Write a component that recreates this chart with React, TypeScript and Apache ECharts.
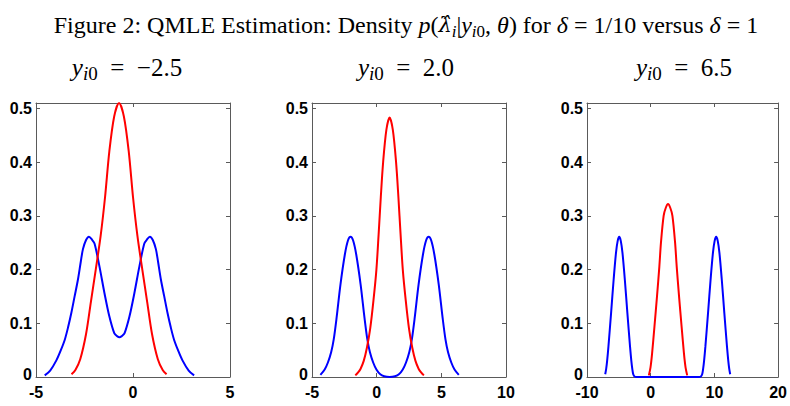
import React, { useEffect, useRef } from "react";
import * as echarts from "echarts";

// ---------- data ----------
const p1BlueX = [-4.55, -4.27, -3.95, -3.72, -3.52, -3.35, -3.18, -3.01, -2.84, -2.69, -2.58, -2.42, -2.27, -2.12, -1.98, -1.73, -1.47, -1.22, -0.96, -0.82, -0.70, -0.58, -0.44, -0.18, 0.07, 0.33, 0.58, 0.72, 0.87, 1.02, 1.18, 1.29, 1.44, 1.61, 1.78, 1.95, 2.12, 2.32, 2.55, 2.87, 3.15];
const p1BlueY = [0.003, 0.012, 0.031, 0.05, 0.069, 0.092, 0.119, 0.15, 0.181, 0.215, 0.238, 0.255, 0.261, 0.256, 0.248, 0.206, 0.156, 0.113, 0.081, 0.076, 0.074, 0.076, 0.081, 0.113, 0.156, 0.206, 0.248, 0.256, 0.261, 0.255, 0.238, 0.215, 0.181, 0.15, 0.119, 0.092, 0.069, 0.05, 0.031, 0.012, 0.003];
const p1RedX = [-3.17, -2.97, -2.72, -2.42, -2.17, -1.92, -1.67, -1.44, -1.22, -0.97, -0.72, -0.47, -0.22, 0.0, 0.23, 0.48, 0.73, 0.98, 1.28, 1.53, 1.73];
const p1RedY = [0.005, 0.013, 0.033, 0.08, 0.14, 0.2, 0.262, 0.335, 0.42, 0.485, 0.51, 0.485, 0.42, 0.335, 0.262, 0.2, 0.14, 0.08, 0.033, 0.013, 0.005];

const p2BlueX = [-4.35, -4.02, -3.77, -3.52, -3.32, -3.10, -2.80, -2.46, -2.22, -2.02, -1.82, -1.58, -1.24, -0.94, -0.72, -0.52, -0.27, -0.02, 0.28, 0.58, 1.0, 1.42, 1.72, 2.02, 2.27, 2.52, 2.72, 2.94, 3.24, 3.58, 3.82, 4.02, 4.22, 4.46, 4.80, 5.10, 5.32, 5.52, 5.77, 6.02, 6.35];
const p2BlueY = [0.004, 0.014, 0.027, 0.046, 0.07, 0.11, 0.172, 0.228, 0.254, 0.261, 0.254, 0.228, 0.172, 0.11, 0.07, 0.046, 0.027, 0.014, 0.005, 0.0015, 0.0002, 0.0015, 0.005, 0.014, 0.027, 0.046, 0.07, 0.11, 0.172, 0.228, 0.254, 0.261, 0.254, 0.228, 0.172, 0.11, 0.07, 0.046, 0.027, 0.014, 0.004];
const p2RedX = [-1.65, -1.45, -1.25, -1.0, -0.75, -0.5, -0.25, -0.02, 0.15, 0.32, 0.5, 0.75, 1.0, 1.25, 1.5, 1.68, 1.85, 2.02, 2.25, 2.5, 2.75, 3.0, 3.25, 3.45, 3.65];
const p2RedY = [0.003, 0.008, 0.015, 0.03, 0.055, 0.09, 0.142, 0.2, 0.265, 0.335, 0.40, 0.46, 0.483, 0.46, 0.40, 0.335, 0.265, 0.2, 0.142, 0.09, 0.055, 0.03, 0.015, 0.008, 0.003];

const p3BlueX = [-7.14, -6.99, -6.84, -6.64, -6.22, -5.82, -5.45, -5.19, -4.94, -4.69, -4.43, -4.06, -3.66, -3.24, -3.04, -2.89, -2.74, -2.54, -2.2, 0.0, 2.67, 5.34, 7.54, 7.88, 8.08, 8.23, 8.38, 8.58, 9.0, 9.4, 9.77, 10.03, 10.28, 10.53, 10.79, 11.16, 11.56, 11.98, 12.18, 12.33, 12.48];
const p3BlueY = [0.005, 0.015, 0.03, 0.056, 0.119, 0.181, 0.231, 0.253, 0.261, 0.253, 0.231, 0.181, 0.119, 0.056, 0.03, 0.015, 0.005, 0.001, 0, 0, 0, 0, 0, 0.001, 0.005, 0.015, 0.03, 0.056, 0.119, 0.181, 0.231, 0.253, 0.261, 0.253, 0.231, 0.181, 0.119, 0.056, 0.03, 0.015, 0.005];
const p3RedX = [-0.29, -0.03, 0.22, 0.59, 0.99, 1.36, 1.61, 2.03, 2.37, 2.72, 3.07, 3.41, 3.83, 4.08, 4.45, 4.85, 5.22, 5.47, 5.73];
const p3RedY = [0.003, 0.018, 0.044, 0.094, 0.15, 0.206, 0.25, 0.30, 0.315, 0.322, 0.315, 0.30, 0.25, 0.206, 0.15, 0.094, 0.044, 0.018, 0.003];

const panelSubtitles = ["\u22122.5", "2.0", "6.5"];
const xMins = [-5, -5, -10];
const xMaxs = [5, 10, 20];
const xIntervals = [5, 5, 10];
const yMin = 0;
const yMax = 0.51;
const yInterval = 0.1;

const blueSets = [
  [p1BlueX, p1BlueY],
  [p2BlueX, p2BlueY],
  [p3BlueX, p3BlueY],
];
const redSets = [
  [p1RedX, p1RedY],
  [p2RedX, p2RedY],
  [p3RedX, p3RedY],
];

// ---------- layout / style ----------
const gridLefts = [36, 312, 587];
const gridWidths = [194, 194, 195];
const subtitleCenters = [127, 406, 684];
const gridTop = 103;
const gridHeight = 274;
const AXIS_COLOR = "#5a5a5a";
const SANS = '"Liberation Sans", Arial, Helvetica, sans-serif';
const SERIF = '"Liberation Serif", "DejaVu Serif", serif';
const SERIF_MATH = '"DejaVu Serif", "Liberation Serif", serif';
const LABEL_SIZE = 16;

const zip = (xs: number[], ys: number[]) => xs.map((x, i) => [x, ys[i]]);

const baseRich = (size: number, subRatio: number) => {
  const sub = Math.round(size * subRatio);
  return {
    n: { fontFamily: SERIF, fontSize: size, lineHeight: size + 6, color: "#000", verticalAlign: "middle" },
    i: { fontFamily: SERIF, fontSize: size, fontStyle: "italic", lineHeight: size + 6, color: "#000", verticalAlign: "middle" },
    m: { fontFamily: SERIF_MATH, fontSize: size - 3, fontStyle: "italic", lineHeight: size + 6, color: "#000", verticalAlign: "middle" },
    s: { fontFamily: SERIF, fontSize: sub, lineHeight: sub + 2, color: "#000", verticalAlign: "bottom" },
    si: { fontFamily: SERIF, fontSize: sub, fontStyle: "italic", lineHeight: sub + 2, color: "#000", verticalAlign: "bottom" },
  };
};

const labelFont = {
  fontFamily: SANS,
  fontWeight: "bold",
  fontSize: LABEL_SIZE,
  color: "#000",
};

export default function App() {
  const ref = useRef<HTMLDivElement>(null);

  useEffect(() => {
    if (!ref.current) return;
    const chart = echarts.init(ref.current, undefined, { renderer: "svg" });

    const grids = gridLefts.map((left, i) => ({
      left,
      top: gridTop,
      width: gridWidths[i],
      height: gridHeight,
      containLabel: false,
    }));

    const xAxes: any[] = [];
    const yAxes: any[] = [];
    const series: any[] = [];
    for (let i = 0; i < 3; i++) {
      const common = {
        type: "value",
        gridIndex: i,
        min: xMins[i],
        max: xMaxs[i],
        interval: xIntervals[i],
        splitLine: { show: false },
        axisLine: { show: true, onZero: false, lineStyle: { color: AXIS_COLOR, width: 1 } },
        axisTick: { show: true, inside: true, length: 4, lineStyle: { color: AXIS_COLOR, width: 1 } },
      };
      xAxes.push({
        ...common,
        position: "bottom",
        axisLabel: {
          show: true,
          ...labelFont,
          lineHeight: 12,
          margin: 9,
          showMinLabel: true,
          showMaxLabel: true,
        },
      });
      xAxes.push({ ...common, position: "top", axisLabel: { show: false } });

      const yCommon = {
        type: "value",
        gridIndex: i,
        min: yMin,
        max: yMax,
        interval: yInterval,
        splitLine: { show: false },
        axisLine: { show: true, onZero: false, lineStyle: { color: AXIS_COLOR, width: 1 } },
        axisTick: { show: true, inside: true, length: 4, lineStyle: { color: AXIS_COLOR, width: 1 } },
      };
      yAxes.push({
        ...yCommon,
        position: "left",
        axisLabel: {
          show: true,
          ...labelFont,
          lineHeight: 10,
          margin: 4,
          rich: {
            z: { ...labelFont, padding: [0, 0, 6, 0] },
          },
          formatter: (v: number) => {
            const k = Math.round(v * 10);
            if (Math.abs(v * 10 - k) > 1e-6) return "";
            return k === 0 ? "{z|0}" : (k / 10).toFixed(1);
          },
        },
      });
      yAxes.push({ ...yCommon, position: "right", axisLabel: { show: false } });

      series.push({
        type: "line",
        xAxisIndex: 2 * i,
        yAxisIndex: 2 * i,
        data: zip(blueSets[i][0], blueSets[i][1]),
        showSymbol: false,
        smooth: 0.3,
        clip: false,
        lineStyle: { color: "#0000ff", width: 2 },
        z: 3,
      });
      series.push({
        type: "line",
        xAxisIndex: 2 * i,
        yAxisIndex: 2 * i,
        data: zip(redSets[i][0], redSets[i][1]),
        showSymbol: false,
        smooth: 0.3,
        clip: false,
        lineStyle: { color: "#ff0000", width: 2 },
        z: 4,
      });
    }

    const titleText =
      "{n|Figure 2: QMLE Estimation: Density }{i|p}{n|(}{m|\u03bb\u0302}{si|i}{n||}{i|y}{si|i}{s|0}{n|, }{i|\u03b8}{n|) for }{i|\u03b4}{n| = 1/10 versus }{i|\u03b4}{n| = 1}";

    const graphics: any[] = [
      {
        type: "text",
        x: 406,
        y: 25,
        style: {
          text: titleText,
          align: "center",
          verticalAlign: "middle",
          rich: baseRich(24, 0.7),
        },
      },
    ];
    panelSubtitles.forEach((val, i) => {
      graphics.push({
        type: "text",
        x: subtitleCenters[i],
        y: 67,
        style: {
          text: "{i|y}{si|i}{s|0}{n|\u2002=\u2002" + val + "}",
          align: "center",
          verticalAlign: "middle",
          rich: baseRich(25, 0.75),
        },
      });
    });

    chart.setOption({
      animation: false,
      backgroundColor: "#ffffff",
      grid: grids,
      xAxis: xAxes,
      yAxis: yAxes,
      series,
      graphic: graphics,
    });

    return () => chart.dispose();
  }, []);

  return (
    <div
      ref={ref}
      style={{ position: "absolute", left: 0, top: 0, width: 790, height: 406 }}
    />
  );
}
